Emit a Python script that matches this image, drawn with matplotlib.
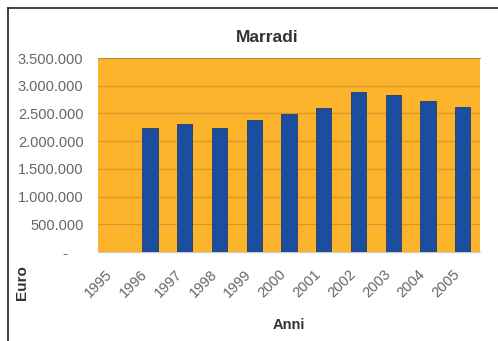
import matplotlib
matplotlib.use("Agg")
import matplotlib.pyplot as plt
from matplotlib.lines import Line2D

years = ["1995", "1996", "1997", "1998", "1999", "2000", "2001", "2002", "2003", "2004", "2005"]
values = [0, 2240000, 2310000, 2230000, 2390000, 2490000, 2600000, 2880000, 2830000, 2730000, 2620000]
yticks = [0, 500000, 1000000, 1500000, 2000000, 2500000, 3000000, 3500000]
ytick_labels = ["", "500.000", "1.000.000", "1.500.000", "2.000.000", "2.500.000", "3.000.000", "3.500.000"]
title = "Marradi"
xlabel = "Anni"
ylabel = "Euro"

plt.rcParams['font.family'] = ['Liberation Sans', 'DejaVu Sans']

W, H = 498, 341
fig = plt.figure(figsize=(W / 100, H / 100), dpi=100)
fig.patch.set_facecolor('white')

L, R, T, B = 98, 480, 58, 252
ax = fig.add_axes([L / W, 1 - B / H, (R - L) / W, (B - T) / H])
ax.set_facecolor('#FBB42C')

x = list(range(len(years)))
ax.bar(x, values, width=0.44, color='#1B4E9E', edgecolor='#263B6A', linewidth=0.6, zorder=3)
ax.set_xlim(-0.5, len(years) - 0.5)
ax.set_ylim(0, 3500000)
ax.set_yticks(yticks)
ax.set_yticklabels(ytick_labels, fontsize=10.5, color='#666666')
ax.tick_params(axis='y', length=0, pad=10.5)
ax.set_xticks(x)
ax.set_xticklabels(years, rotation=45, ha='right', va='top', fontsize=10.5, color='#666666',
                   rotation_mode='default')
ax.tick_params(axis='x', length=0, pad=11)
ax.grid(axis='y', color='#D8952A', linewidth=0.9, zorder=1)
for s in ['left', 'right']:
    ax.spines[s].set_visible(False)
ax.spines['top'].set_color('#B08A40')
ax.spines['top'].set_linewidth(0.6)
ax.spines['bottom'].set_color('#C9C9C9')
ax.spines['bottom'].set_linewidth(0.8)

# zero label ("-") in accounting style
fig.text(65 / W, 1 - 254 / H, "-", ha='center', va='center', fontsize=10.5, color='#666666')

fig.text(267 / W, 1 - 37 / H, title, ha='center', va='center', fontsize=12.5, fontweight='bold', color='#333333')
fig.text(289 / W, 1 - 325 / H, xlabel, ha='center', va='center', fontsize=10.5, fontweight='bold', color='#333333')
fig.text(22 / W, 1 - 283 / H, ylabel, ha='center', va='center', fontsize=11, fontweight='bold', color='#333333', rotation=90)

# frame (left and top lines)
fig.add_artist(Line2D([8 / W, 8 / W], [0, 1 - 8 / H], color='#222222', linewidth=1.2))
fig.add_artist(Line2D([8 / W, 1], [1 - 8 / H, 1 - 8 / H], color='#222222', linewidth=1.2))

fig.savefig("out.png", dpi=100, facecolor='white')
